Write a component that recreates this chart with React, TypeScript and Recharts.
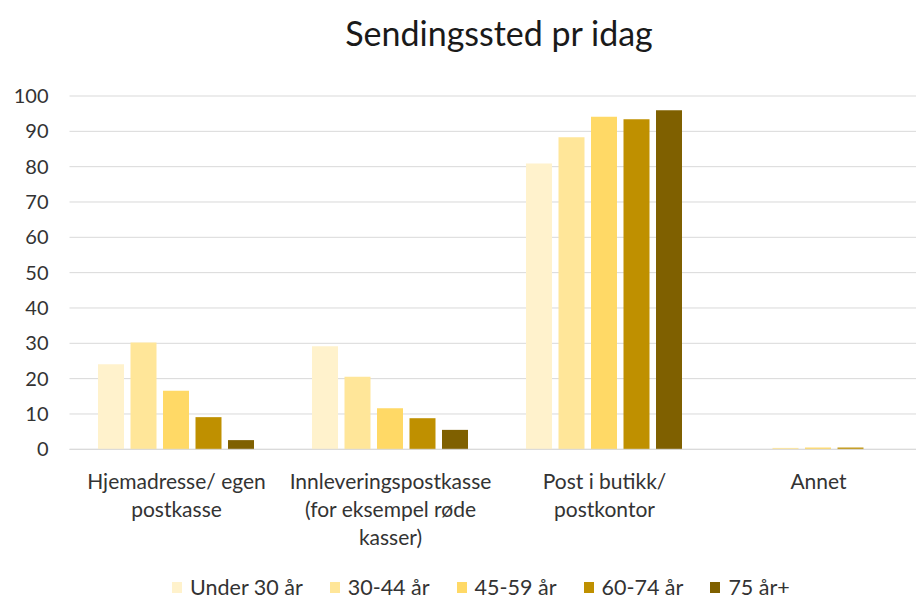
import React from "react";
import { BarChart, Bar, XAxis, YAxis, CartesianGrid } from "recharts";

const categories = [
  "Hjemadresse/ egen postkasse",
  "Innleveringspostkasse (for eksempel røde kasser)",
  "Post i butikk/ postkontor",
  "Annet",
];
const seriesNames = ["Under 30 år", "30-44 år", "45-59 år", "60-74 år", "75 år+"];
const under30 = [24.1, 29.2, 80.9, 0];
const age30to44 = [30.2, 20.5, 88.3, 0.4];
const age45to59 = [16.6, 11.6, 94.1, 0.5];
const age60to74 = [9.1, 8.8, 93.4, 0.5];
const age75plus = [2.6, 5.5, 96.0, 0];
const yTicks = [0, 10, 20, 30, 40, 50, 60, 70, 80, 90, 100];
const title = "Sendingssted pr idag";

const seriesValues = [under30, age30to44, age45to59, age60to74, age75plus];
const colors = ["#FFF2CC", "#FFE699", "#FFD966", "#BF9000", "#7F6000"];
const keys = ["s0", "s1", "s2", "s3", "s4"];

const data = categories.map((c, i) => {
  const row: Record<string, any> = { category: c };
  seriesValues.forEach((vals, s) => {
    row[keys[s]] = vals[i];
  });
  return row;
});

const FONT = "Lato, 'Open Sans', sans-serif";
const TEXT = "#333333";
const LABEL_SIZE = 21;
const WRAP_WIDTH = 205;

let canvasCtx: CanvasRenderingContext2D | null = null;
function measure(s: string): number {
  if (typeof document === "undefined") return s.length * LABEL_SIZE * 0.5;
  if (!canvasCtx) {
    const c = document.createElement("canvas");
    canvasCtx = c.getContext("2d");
  }
  if (!canvasCtx) return s.length * LABEL_SIZE * 0.5;
  canvasCtx.font = `${LABEL_SIZE}px Lato`;
  return canvasCtx.measureText(s).width;
}

function wrap(label: string): string[] {
  const words = label.split(" ");
  const lines: string[] = [];
  let cur = "";
  words.forEach((w) => {
    const cand = cur ? cur + " " + w : w;
    if (cur && measure(cand) > WRAP_WIDTH) {
      lines.push(cur);
      cur = w;
    } else {
      cur = cand;
    }
  });
  if (cur) lines.push(cur);
  return lines;
}

const CategoryTick = (props: any) => {
  const { x, y, payload } = props;
  const lines = wrap(String(payload.value));
  return (
    <text x={x} y={y} textAnchor="middle" fontSize={LABEL_SIZE} fontFamily={FONT} fill={TEXT}>
      {lines.map((l, i) => (
        <tspan key={i} x={x} y={y + 32 + i * 28}>
          {l}
        </tspan>
      ))}
    </text>
  );
};

const LegendBlock = () => (
  <div
    style={{
      position: "absolute",
      left: 172,
      top: 574,
      display: "flex",
      alignItems: "center",
      fontFamily: FONT,
      fontSize: 21.5,
      color: TEXT,
      whiteSpace: "nowrap",
    }}
  >
    {seriesNames.map((n, i) => (
      <div key={n} style={{ display: "flex", alignItems: "center", marginRight: 27 }}>
        <span style={{ display: "inline-block", width: 10, height: 11, background: colors[i], marginRight: 8 }} />
        <span>{n}</span>
      </div>
    ))}
  </div>
);

export default function App() {
  return (
    <div style={{ position: "absolute", left: 0, top: 0, width: 916, height: 599, overflow: "hidden", background: "#fff" }}>
      <div
        style={{
          position: "absolute",
          left: 0,
          width: 998,
          top: 13,
          textAlign: "center",
          fontFamily: FONT,
          fontSize: 34,
          lineHeight: "40px",
          color: "#1a1a1a",
        }}
      >
        {title}
      </div>
      <BarChart
        width={940}
        height={599}
        data={data}
        margin={{ top: 96, right: 14.5, left: 0, bottom: 39.7 }}
        barCategoryGap={28.5}
        barGap={6.5}
      >
        <CartesianGrid vertical={false} stroke="#D9D9D9" strokeWidth={1} />
        <XAxis
          dataKey="category"
          axisLine={{ stroke: "#D9D9D9" }}
          tickLine={false}
          height={110}
          interval={0}
          tick={<CategoryTick />}
        />
        <YAxis
          width={69.5}
          domain={[0, 100]}
          ticks={yTicks}
          axisLine={false}
          tickLine={false}
          tickSize={0}
          tickMargin={21}
          tick={{ fontSize: 20, fontFamily: FONT, fill: TEXT }}
          interval={0}
        />
        {keys.map((k, i) => (
          <Bar key={k} dataKey={k} name={seriesNames[i]} fill={colors[i]} isAnimationActive={false} />
        ))}
      </BarChart>
      <LegendBlock />
    </div>
  );
}
